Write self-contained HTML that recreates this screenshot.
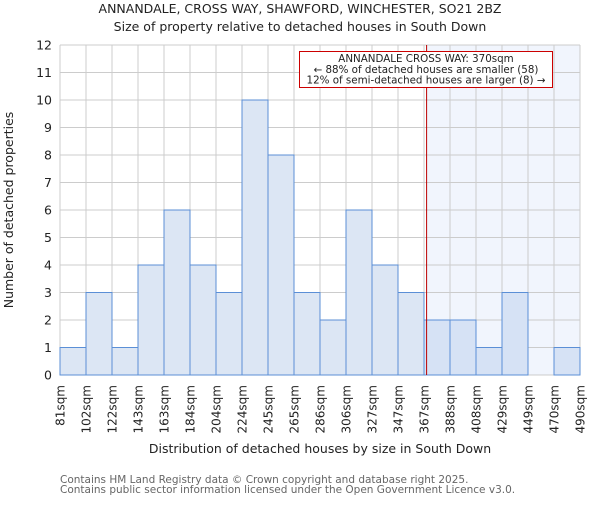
<!DOCTYPE html>
<html><head><meta charset="utf-8"><style>
body{margin:0;background:#fff}
svg text{font-family:"DejaVu Sans","Liberation Sans",sans-serif;fill:#222}
</style></head><body>
<svg id="c" width="600" height="500" xmlns="http://www.w3.org/2000/svg">
<text x="300" y="13" font-size="12.5" text-anchor="middle">ANNANDALE, CROSS WAY, SHAWFORD, WINCHESTER, SO21 2BZ</text>
<text x="300" y="31" font-size="12.5" text-anchor="middle">Size of property relative to detached houses in South Down</text>
<g id="plot"></g>
<text x="320" y="453" font-size="12.5" text-anchor="middle">Distribution of detached houses by size in South Down</text>
<text transform="translate(13,210) rotate(-90)" font-size="12.5" text-anchor="middle">Number of detached properties</text>
<text x="60" y="483" font-size="10.5" style="fill:#666">Contains HM Land Registry data © Crown copyright and database right 2025.</text>
<text x="60" y="493" font-size="10.5" style="fill:#666">Contains public sector information licensed under the Open Government Licence v3.0.</text>
</svg>
<script>
const categories=["81sqm","102sqm","122sqm","143sqm","163sqm","184sqm","204sqm","224sqm","245sqm","265sqm","286sqm","306sqm","327sqm","347sqm","367sqm","388sqm","408sqm","429sqm","449sqm","470sqm","490sqm"];
const counts=[1,3,1,4,6,4,3,10,8,3,2,6,4,3,2,2,1,3,0,1];
const yTicks=[0,1,2,3,4,5,6,7,8,9,10,11,12];
const markerIndex=14.1;
const NS="http://www.w3.org/2000/svg";
const g=document.getElementById('plot');
const X0=60,X1=580,Y0=375,Y1=45,nb=counts.length;
const x=i=>X0+(X1-X0)*i/nb;
const y=v=>Y0-(Y0-Y1)*v/12;
function mk(t,a,p){const e=document.createElementNS(NS,t);for(const k in a)e.setAttribute(k,a[k]);(p||g).appendChild(e);return e;}
let e;
e=mk('rect',{x:x(markerIndex),y:Y1,width:X1-x(markerIndex),height:Y0-Y1,fill:'#f1f5fd'});


yTicks.forEach(v=>{e=mk('line',{x1:X0,x2:X1,y1:y(v),y2:y(v),stroke:'#ccc','stroke-width':1});


e=mk('text',{x:X0-8,y:y(v)+4.5,'font-size':12.5,'text-anchor':'end'});e.textContent=v;

});
categories.forEach((c,i)=>{e=mk('line',{x1:x(i),x2:x(i),y1:Y1,y2:Y0,stroke:'#ccc','stroke-width':1});


e=mk('text',{transform:`translate(${x(i)+4.5},385) rotate(-90)`,'font-size':12,'text-anchor':'end'});e.textContent=c;

});
counts.forEach((v,i)=>{if(!v)return;e=mk('rect',{x:x(i),y:y(v),width:x(i+1)-x(i),height:Y0-y(v),fill:i>=14?'#d6e2f5':'#dce6f4',stroke:'#5b8fd6','stroke-width':1});

});
e=mk('line',{x1:x(markerIndex),x2:x(markerIndex),y1:Y1,y2:Y0,stroke:'#b00','stroke-width':1});


e=mk('rect',{x:299.5,y:51.5,width:253,height:36,fill:'#fff',stroke:'#c00','stroke-width':1});


["ANNANDALE CROSS WAY: 370sqm","← 88% of detached houses are smaller (58)","12% of semi-detached houses are larger (8) →"].forEach((t,k)=>{
e=mk('text',{x:426,y:62+k*10.8,'font-size':10.3,'text-anchor':'middle'});e.textContent=t;

});
</script>
</body></html>
